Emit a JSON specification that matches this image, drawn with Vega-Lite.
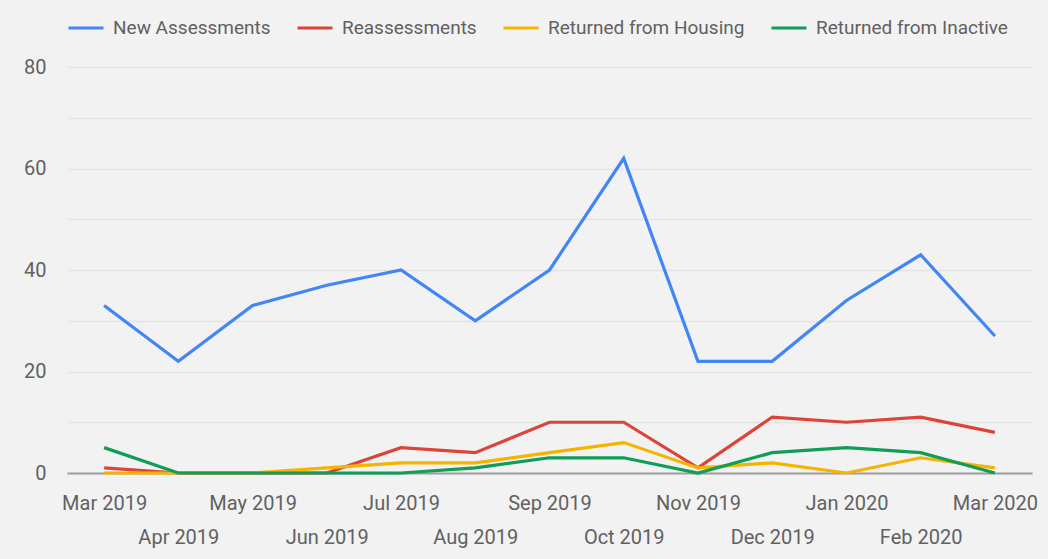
{
  "$schema": "https://vega.github.io/schema/vega-lite/v6.json",
  "width": 965,
  "height": 406,
  "autosize": {"type": "none"},
  "padding": {"left": 67, "top": 67, "right": 16, "bottom": 86},
  "background": "#f2f2f2",
  "config": {
    "view": {"stroke": null},
    "font": "Roboto",
    "axis": {"labelFont": "Roboto", "labelColor": "#616161", "labelFontSize": 20}
  },
  "data": {
    "values": [
      {"month": "Mar 2019", "series": "New Assessments", "value": 33},
      {"month": "Apr 2019", "series": "New Assessments", "value": 22},
      {"month": "May 2019", "series": "New Assessments", "value": 33},
      {"month": "Jun 2019", "series": "New Assessments", "value": 37},
      {"month": "Jul 2019", "series": "New Assessments", "value": 40},
      {"month": "Aug 2019", "series": "New Assessments", "value": 30},
      {"month": "Sep 2019", "series": "New Assessments", "value": 40},
      {"month": "Oct 2019", "series": "New Assessments", "value": 62},
      {"month": "Nov 2019", "series": "New Assessments", "value": 22},
      {"month": "Dec 2019", "series": "New Assessments", "value": 22},
      {"month": "Jan 2020", "series": "New Assessments", "value": 34},
      {"month": "Feb 2020", "series": "New Assessments", "value": 43},
      {"month": "Mar 2020", "series": "New Assessments", "value": 27},
      {"month": "Mar 2019", "series": "Reassessments", "value": 1},
      {"month": "Apr 2019", "series": "Reassessments", "value": 0},
      {"month": "May 2019", "series": "Reassessments", "value": 0},
      {"month": "Jun 2019", "series": "Reassessments", "value": 0},
      {"month": "Jul 2019", "series": "Reassessments", "value": 5},
      {"month": "Aug 2019", "series": "Reassessments", "value": 4},
      {"month": "Sep 2019", "series": "Reassessments", "value": 10},
      {"month": "Oct 2019", "series": "Reassessments", "value": 10},
      {"month": "Nov 2019", "series": "Reassessments", "value": 1},
      {"month": "Dec 2019", "series": "Reassessments", "value": 11},
      {"month": "Jan 2020", "series": "Reassessments", "value": 10},
      {"month": "Feb 2020", "series": "Reassessments", "value": 11},
      {"month": "Mar 2020", "series": "Reassessments", "value": 8},
      {"month": "Mar 2019", "series": "Returned from Housing", "value": 0},
      {"month": "Apr 2019", "series": "Returned from Housing", "value": 0},
      {"month": "May 2019", "series": "Returned from Housing", "value": 0},
      {"month": "Jun 2019", "series": "Returned from Housing", "value": 1},
      {"month": "Jul 2019", "series": "Returned from Housing", "value": 2},
      {"month": "Aug 2019", "series": "Returned from Housing", "value": 2},
      {"month": "Sep 2019", "series": "Returned from Housing", "value": 4},
      {"month": "Oct 2019", "series": "Returned from Housing", "value": 6},
      {"month": "Nov 2019", "series": "Returned from Housing", "value": 1},
      {"month": "Dec 2019", "series": "Returned from Housing", "value": 2},
      {"month": "Jan 2020", "series": "Returned from Housing", "value": 0},
      {"month": "Feb 2020", "series": "Returned from Housing", "value": 3},
      {"month": "Mar 2020", "series": "Returned from Housing", "value": 1},
      {"month": "Mar 2019", "series": "Returned from Inactive", "value": 5},
      {"month": "Apr 2019", "series": "Returned from Inactive", "value": 0},
      {"month": "May 2019", "series": "Returned from Inactive", "value": 0},
      {"month": "Jun 2019", "series": "Returned from Inactive", "value": 0},
      {"month": "Jul 2019", "series": "Returned from Inactive", "value": 0},
      {"month": "Aug 2019", "series": "Returned from Inactive", "value": 1},
      {"month": "Sep 2019", "series": "Returned from Inactive", "value": 3},
      {"month": "Oct 2019", "series": "Returned from Inactive", "value": 3},
      {"month": "Nov 2019", "series": "Returned from Inactive", "value": 0},
      {"month": "Dec 2019", "series": "Returned from Inactive", "value": 4},
      {"month": "Jan 2020", "series": "Returned from Inactive", "value": 5},
      {"month": "Feb 2020", "series": "Returned from Inactive", "value": 4},
      {"month": "Mar 2020", "series": "Returned from Inactive", "value": 0}
    ]
  },
  "mark": {"type": "line", "strokeWidth": 3.2},
  "encoding": {
    "x": {
      "field": "month",
      "type": "ordinal",
      "sort": null,
      "scale": {"type": "point", "padding": 0.5},
      "axis": {
        "title": null,
        "labelAngle": 0,
        "labelOverlap": false,
        "ticks": false,
        "domain": true,
        "domainColor": "#9e9e9e",
        "domainWidth": 2,
        "labelPadding": {"condition": {"test": "round(datum.index*12)%2==1", "value": 54}, "value": 20}
      }
    },
    "y": {
      "field": "value",
      "type": "quantitative",
      "scale": {"domain": [0, 80], "nice": false},
      "axis": {
        "title": null,
        "values": [0, 10, 20, 30, 40, 50, 60, 70, 80],
        "labelExpr": "datum.value % 20 == 0 ? datum.label : ''",
        "ticks": false,
        "domain": false,
        "gridColor": "#e4e4e4",
        "gridWidth": 1.5,
        "labelPadding": 21
      }
    },
    "color": {
      "field": "series",
      "type": "nominal",
      "scale": {
        "domain": ["New Assessments", "Reassessments", "Returned from Housing", "Returned from Inactive"],
        "range": ["#4285F4", "#DB4437", "#F4B400", "#0F9D58"]
      },
      "legend": {
        "title": null,
        "orient": "none",
        "direction": "horizontal",
        "legendX": 0,
        "legendY": -58,
        "symbolType": "stroke",
        "symbolSize": 1225,
        "symbolStrokeWidth": 3,
        "labelFont": "Roboto",
        "labelFontSize": 19,
        "labelColor": "#616161",
        "labelOffset": 8,
        "columnPadding": 20,
        "labelLimit": 400
      }
    }
  }
}
